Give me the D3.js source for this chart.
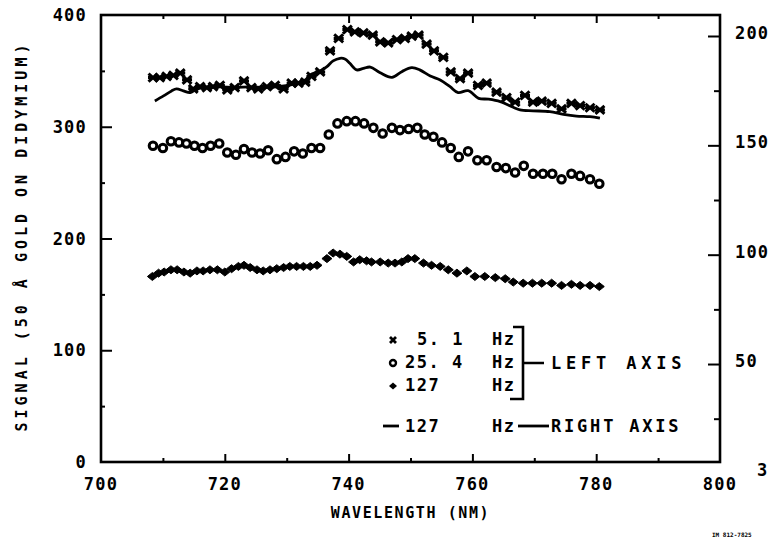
<!DOCTYPE html>
<html>
<head>
<meta charset="utf-8">
<script src="https://cdn.jsdelivr.net/npm/d3@7"></script>
<style>
  body { margin: 0; background: #fff; }
  svg { display: block; }
  text { font-family: "DejaVu Sans Mono", monospace; font-weight: bold; fill: #000; }
</style>
</head>
<body>
<div id="chart"></div>
<script>
// wavelength (nm) / signal readings

// 5.1 Hz, left axis (crosses)
var crossWl = [708.4, 709.5, 710.6, 711.7, 712.8, 713.9, 714.9, 716.0, 717.1, 718.1,
  719.2, 720.4, 721.6, 723.1, 724.3, 725.4, 726.8, 728.1, 729.5, 730.8,
  731.9, 733.0, 734.0, 735.4, 737.0, 738.4, 739.8, 741.0, 742.4, 743.9,
  745.1, 746.4, 747.8, 749.1, 750.2, 751.3, 752.6, 753.8, 755.3, 756.5,
  758.0, 759.3, 760.9, 762.3, 763.9, 765.5, 766.9, 768.5, 769.8, 771.2,
  772.8, 774.4, 776.0, 777.4, 779.0, 780.6];
var crossVal = [344, 344, 345, 346, 348, 342, 334, 336, 335, 336,
  337, 333, 335, 341, 335, 334, 336, 337, 334, 339,
  339, 340, 345, 349, 368, 379, 387, 385, 384, 382,
  376, 375, 378, 379, 381, 382, 374, 368, 362, 349,
  343, 348, 337, 339, 331, 326, 322, 328, 322, 323,
  321, 316, 321, 319, 317, 315];

// 25.4 Hz, left axis (circles)
var circleWl = [708.4, 710.0, 711.3, 712.6, 713.8, 715.1, 716.4, 717.7, 719.1, 720.4,
  721.8, 723.1, 724.4, 725.7, 727.0, 728.4, 729.8, 731.2, 732.6, 734.0,
  735.4, 736.8, 738.2, 739.7, 741.1, 742.5, 744.0, 745.5, 747.0, 748.3,
  749.7, 751.1, 752.3, 753.7, 755.1, 756.5, 757.8, 759.3, 760.8, 762.3,
  763.9, 765.4, 766.9, 768.3, 769.8, 771.4, 772.9, 774.4, 776.0, 777.4,
  779.0, 780.5];
var circleVal = [283, 281, 287, 286, 285, 283, 281, 283, 285, 277,
  275, 280, 277, 276, 279, 271, 273, 278, 276, 281,
  281, 293, 303, 305, 305, 303, 299, 294, 299, 297,
  298, 299, 293, 291, 286, 281, 273, 278, 270, 270,
  264, 263, 259, 265, 258, 258, 258, 253, 258, 256,
  253, 249];

// 127 Hz, left axis (diamonds)
var diamondWl = [708.3, 709.3, 710.2, 711.3, 712.3, 713.4, 714.4, 715.5, 716.5, 717.6,
  718.8, 720.0, 721.1, 722.2, 723.1, 724.1, 725.2, 726.2, 727.3, 728.4,
  729.5, 730.5, 731.6, 732.7, 733.8, 734.9, 736.5, 737.5, 738.6, 739.7,
  740.8, 741.8, 742.9, 743.7, 745.1, 746.4, 747.5, 748.6, 749.6, 750.7,
  752.1, 753.4, 754.8, 756.1, 757.5, 759.1, 760.4, 762.0, 763.7, 765.3,
  766.6, 768.2, 769.7, 771.2, 772.8, 774.4, 776.0, 777.4, 779.0, 780.5];
var diamondVal = [166, 169, 170, 172, 172, 170, 169, 171, 171, 172,
  172, 170, 173, 175, 176, 174, 172, 171, 172, 173,
  174, 175, 175, 175, 175, 176, 182, 187, 186, 184,
  179, 181, 180, 179, 179, 178, 178, 179, 182, 182,
  178, 176, 175, 172, 169, 171, 166, 166, 165, 164,
  161, 160, 160, 160, 160, 158, 159, 158, 158, 157];

// 127 Hz, right axis (solid line)
var lineWl = [708.7, 710.1, 711.4, 712.2, 713.3, 714.4, 715.2, 716.0, 717.6, 719.2,
  721.6, 724.1, 726.5, 728.9, 731.3, 733.0, 733.8, 735.4, 736.5, 737.5,
  738.6, 739.4, 740.2, 741.3, 742.4, 743.5, 745.1, 747.0, 748.6, 750.2,
  751.5, 753.2, 754.8, 756.4, 757.7, 759.3, 761.0, 762.6, 764.5, 766.6,
  767.7, 769.8, 772.5, 774.7, 776.8, 779.0, 780.6];
var lineVal = [170.3, 172.6, 174.9, 175.8, 174.9, 174.1, 175.3, 176.2, 176.5, 176.7,
  176.5, 176.7, 176.5, 176.9, 178.1, 179.9, 182.2, 184.0, 186.0, 188.6,
  189.8, 189.5, 187.5, 184.5, 185.2, 185.8, 183.2, 181.1, 183.7, 185.5,
  184.5, 181.7, 179.9, 176.8, 174.1, 175.0, 171.5, 171.1, 170.0, 167.4,
  166.2, 165.8, 165.4, 164.2, 163.4, 163.1, 162.4];

var xTicks = [700, 720, 740, 760, 780, 800];
var leftTicks = [0, 100, 200, 300, 400];
var rightTicks = [0, 50, 100, 150, 200];
var rightTickLabels = ['3', '50', '100', '150', '200'];

var legendLeft = ['5. 1', '25. 4', '127'];
var legendRight = '127';

(function(d3) {
  'use strict';

  var width = 775;
  var height = 542;
  var margin = { top: 15, right: 55, bottom: 80, left: 101 };

  var svg = d3.select('#chart')
    .append('svg')
    .attr('width', width)
    .attr('height', height);

  var x = d3.scaleLinear().domain([700, 800]).range([margin.left, width - margin.right]);
  var yL = d3.scaleLinear().domain([0, 400]).range([height - margin.bottom, margin.top]);
  var yR = d3.scaleLinear().domain([5.2, 209.6]).range([height - margin.bottom, margin.top]);

  var x0 = x.range()[0], x1 = x.range()[1];
  var y0 = yL.range()[0], y1 = yL.range()[1];

  // axes: ticks point inward, minor every half step
  function tickAxis(axis, scale, vals, size, where) {
    svg.append('g')
      .attr('transform', where)
      .call(axis(scale).tickValues(vals).tickSize(size).tickFormat(''))
      .call(function(g) { g.select('.domain').remove(); })
      .selectAll('line').attr('stroke', '#000').attr('stroke-width', 2);
  }
  tickAxis(d3.axisBottom, x, [710, 730, 750, 770, 790], 4, 'translate(0,' + y1 + ')');
  tickAxis(d3.axisBottom, x, [720, 740, 760, 780], 8, 'translate(0,' + y1 + ')');
  tickAxis(d3.axisTop, x, [710, 730, 750, 770, 790], 4, 'translate(0,' + y0 + ')');
  tickAxis(d3.axisTop, x, [720, 740, 760, 780], 8, 'translate(0,' + y0 + ')');
  tickAxis(d3.axisRight, yL, [50, 150, 250, 350], 4, 'translate(' + x0 + ',0)');
  tickAxis(d3.axisRight, yL, [100, 200, 300], 11, 'translate(' + x0 + ',0)');
  tickAxis(d3.axisLeft, yR, [25, 75, 125, 175], 6, 'translate(' + x1 + ',0)');
  tickAxis(d3.axisLeft, yR, [50, 100, 150, 200], 12, 'translate(' + x1 + ',0)');

  svg.append('rect')
    .attr('x', x0).attr('y', y1)
    .attr('width', x1 - x0).attr('height', y0 - y1)
    .attr('fill', 'none').attr('stroke', '#000').attr('stroke-width', 2.6);

  // tick labels
  svg.selectAll('.xl').data(xTicks).enter().append('text')
    .attr('x', function(d) { return x(d); })
    .attr('y', y0 + 28)
    .attr('text-anchor', 'middle')
    .attr('font-size', 17).attr('letter-spacing', 1.2)
    .text(function(d) { return d; });

  svg.selectAll('.yl').data(leftTicks).enter().append('text')
    .attr('x', 87)
    .attr('y', function(d) { return yL(d) + 6; })
    .attr('text-anchor', 'end')
    .attr('font-size', 17).attr('letter-spacing', 1.2)
    .text(function(d) { return d; });

  svg.selectAll('.yr').data(rightTicks).enter().append('text')
    .attr('x', function(d) { return d === 0 ? 757 : 735; })
    .attr('y', function(d) { return yR(d) + 3; })
    .attr('font-size', 17).attr('letter-spacing', 1.2)
    .text(function(d, i) { return rightTickLabels[i]; });

  svg.append('text')
    .attr('x', (x0 + x1) / 2).attr('y', 518)
    .attr('text-anchor', 'middle')
    .attr('font-size', 15).attr('letter-spacing', 1.6)
    .text('WAVELENGTH (NM)');

  svg.append('text')
    .attr('transform', 'translate(27,236) rotate(-90)')
    .attr('text-anchor', 'middle')
    .attr('font-size', 15).attr('letter-spacing', 4)
    .text('SIGNAL (50 Å GOLD ON DIDYMIUM)');

  svg.append('text')
    .attr('x', 712).attr('y', 537)
    .attr('font-size', 6).attr('font-weight', 'normal')
    .text('IM 812-7825');

  // series
  var line = d3.line()
    .x(function(d) { return x(d[0]); })
    .y(function(d) { return yR(d[1]); })
    .curve(d3.curveCatmullRom);

  svg.append('path')
    .datum(d3.zip(lineWl, lineVal))
    .attr('d', line)
    .attr('fill', 'none').attr('stroke', '#000').attr('stroke-width', 2.8);

  var crossPath = 'M-4.5,-4L4.5,4M-4.5,4L4.5,-4M-5,0L5,0';
  var diamondPath = 'M0,-4L5,0L0,4L-5,0Z';

  svg.append('g').selectAll('path')
    .data(d3.zip(crossWl, crossVal)).enter().append('path')
    .attr('transform', function(d) { return 'translate(' + x(d[0]) + ',' + yL(d[1]) + ')'; })
    .attr('d', crossPath)
    .attr('stroke', '#000').attr('stroke-width', 3);

  svg.append('g').selectAll('circle')
    .data(d3.zip(circleWl, circleVal)).enter().append('circle')
    .attr('cx', function(d) { return x(d[0]); })
    .attr('cy', function(d) { return yL(d[1]); })
    .attr('r', 3.8)
    .attr('fill', '#fff').attr('stroke', '#000').attr('stroke-width', 3);

  svg.append('g').selectAll('path')
    .data(d3.zip(diamondWl, diamondVal)).enter().append('path')
    .attr('transform', function(d) { return 'translate(' + x(d[0]) + ',' + yL(d[1]) + ')'; })
    .attr('d', diamondPath)
    .attr('fill', '#000').attr('stroke', '#000').attr('stroke-width', 1);

  // legend
  var rows = [345, 368, 391];
  var lg = svg.append('g').attr('font-size', 17).attr('letter-spacing', 1.5);

  lg.append('path').attr('transform', 'translate(393,' + (rows[0] - 5) + ')')
    .attr('d', 'M-3,-3L3,3M-3,3L3,-3').attr('stroke', '#000').attr('stroke-width', 2.8);
  lg.append('circle').attr('cx', 393).attr('cy', rows[1] - 5).attr('r', 3)
    .attr('fill', '#fff').attr('stroke', '#000').attr('stroke-width', 2.4);
  lg.append('path').attr('transform', 'translate(393,' + (rows[2] - 5) + ')')
    .attr('d', 'M0,-3.5L4,0L0,3.5L-4,0Z').attr('fill', '#000');

  legendLeft.forEach(function(t, i) {
    lg.append('text').attr('x', i === 0 ? 417 : 405).attr('y', rows[i]).text(t);
    lg.append('text').attr('x', 492).attr('y', rows[i]).text('Hz');
  });

  lg.append('path')
    .attr('d', 'M513,' + (rows[0] - 18) + 'H523V' + (rows[2] + 8) + 'H510M523,' + (rows[1] - 5) + 'H544')
    .attr('fill', 'none').attr('stroke', '#000').attr('stroke-width', 2.6);
  lg.append('text').attr('x', 551).attr('y', rows[1] + 1).attr('letter-spacing', 4.8).text('LEFT AXIS');

  var r4 = 432;
  lg.append('path').attr('d', 'M383,' + (r4 - 6) + 'H399')
    .attr('stroke', '#000').attr('stroke-width', 2.8);
  lg.append('text').attr('x', 405).attr('y', r4).text(legendRight);
  lg.append('text').attr('x', 492).attr('y', r4).text('Hz');
  lg.append('path').attr('d', 'M518,' + (r4 - 6) + 'H549')
    .attr('stroke', '#000').attr('stroke-width', 2.8);
  lg.append('text').attr('x', 551).attr('y', r4).attr('letter-spacing', 2.8).text('RIGHT AXIS');

})(window.d3);
</script>
</body>
</html>
